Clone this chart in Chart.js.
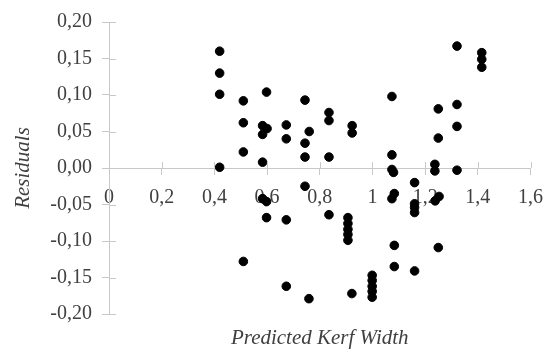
<!DOCTYPE html>
<html>
<head>
<meta charset="utf-8">
<script src="https://cdn.jsdelivr.net/npm/chart.js@4/dist/chart.umd.min.js"></script>
<style>
html,body{margin:0;padding:0;background:#fff;}
#wrap{width:555px;height:349px;}
</style>
</head>
<body>
<div id="wrap"><canvas id="chart"></canvas></div>
<script>
// DATA
const predicted=[0.42,0.42,0.42,0.42,0.51,0.51,0.51,0.51,0.598,0.583,0.60,0.583,0.583,0.583,0.598,0.598,
  0.673,0.673,0.673,0.673,0.744,0.76,0.744,0.744,0.744,0.759,0.835,0.835,0.835,0.835,0.923,0.923,
  0.907,0.907,0.907,0.907,0.907,0.922,0.999,0.999,0.999,0.999,0.999,1.074,1.074,1.074,1.08,1.074,
  1.083,1.083,1.083,1.16,1.16,1.16,1.16,1.16,1.237,1.237,1.238,1.253,1.25,1.25,1.25,1.321,1.321,
  1.321,1.321,1.415,1.415,1.415];
const residuals=[0.160,0.130,0.101,0.001,0.092,0.062,0.022,-0.128,0.104,0.058,0.054,0.046,0.008,-0.042,-0.046,-0.068,
  0.059,0.040,-0.071,-0.162,0.093,0.050,0.034,0.015,-0.025,-0.179,0.076,0.065,0.015,-0.064,0.058,0.048,
  -0.068,-0.076,-0.084,-0.091,-0.099,-0.172,-0.147,-0.154,-0.162,-0.169,-0.177,0.098,0.018,-0.002,-0.006,-0.042,
  -0.035,-0.106,-0.135,-0.020,-0.049,-0.054,-0.061,-0.141,0.005,-0.004,-0.045,-0.039,-0.109,0.081,0.041,0.167,0.087,
  0.057,-0.003,0.158,0.149,0.138];
const xTickLabels=["0","0,2","0,4","0,6","0,8","1","1,2","1,4","1,6"];
const yTickLabels=["-0,20","-0,15","-0,10","-0,05","0,00","0,05","0,10","0,15","0,20"];

const points=predicted.map((x,i)=>({x:x,y:residuals[i]}));

// inner half of the cross tick marks
const crossTicks={
  id:"crossTicks",
  afterDraw(chart){
    const ctx=chart.ctx;
    const xs=chart.scales.x, ys=chart.scales.y;
    const y0=ys.getPixelForValue(0);
    const x0=xs.getPixelForValue(0);
    ctx.save();
    ctx.strokeStyle="#c8c8c8";
    ctx.lineWidth=1;
    ctx.beginPath();
    xs.ticks.forEach(t=>{
      const px=Math.round(xs.getPixelForValue(t.value))+0.5;
      ctx.moveTo(px,y0-6);ctx.lineTo(px,y0);
    });
    ys.ticks.forEach(t=>{
      const py=Math.round(ys.getPixelForValue(t.value))+0.5;
      ctx.moveTo(x0,py);ctx.lineTo(x0+7,py);
    });
    ctx.stroke();
    ctx.restore();
  }
};

new Chart(document.getElementById("chart"),{
  type:"scatter",
  data:{datasets:[{
    data:points,
    backgroundColor:"#000",
    borderColor:"#000",
    pointRadius:4.3,
    pointHoverRadius:4.3
  }]},
  options:{
    responsive:true,
    maintainAspectRatio:false,
    animation:false,
    layout:{padding:{left:0,right:16,top:21,bottom:0}},
    plugins:{
      legend:{display:false},
      tooltip:{enabled:false},
      title:{
        display:true,
        position:"bottom",
        fullSize:false,
        text:"Predicted Kerf Width",
        color:"#404040",
        font:{family:"Liberation Serif",size:21,style:"italic",weight:"normal",lineHeight:1},
        padding:{top:14,bottom:0}
      }
    },
    scales:{
      x:{
        type:"linear",
        position:{y:0},
        min:0,max:1.6,
        ticks:{
          stepSize:0.2,
          padding:12,
          color:"#404040",
          font:{family:"Liberation Serif",size:20},
          callback:(v,i)=>xTickLabels[i]
        },
        grid:{drawOnChartArea:false,tickLength:6,color:"#c8c8c8"},
        border:{color:"#c8c8c8"}
      },
      y:{
        type:"linear",
        min:-0.2,max:0.2,
        afterFit:s=>{s.width=109;},
        ticks:{
          stepSize:0.05,
          padding:10,
          color:"#404040",
          font:{family:"Liberation Serif",size:20},
          callback:(v,i)=>yTickLabels[i]
        },
        grid:{drawOnChartArea:false,tickLength:7,color:"#c8c8c8"},
        border:{color:"#c8c8c8"},
        title:{
          display:true,
          text:"Residuals",
          color:"#404040",
          font:{family:"Liberation Serif",size:21,style:"italic"},
          padding:{top:11,bottom:0}
        }
      }
    }
  },
  plugins:[crossTicks]
});
</script>
</body>
</html>
